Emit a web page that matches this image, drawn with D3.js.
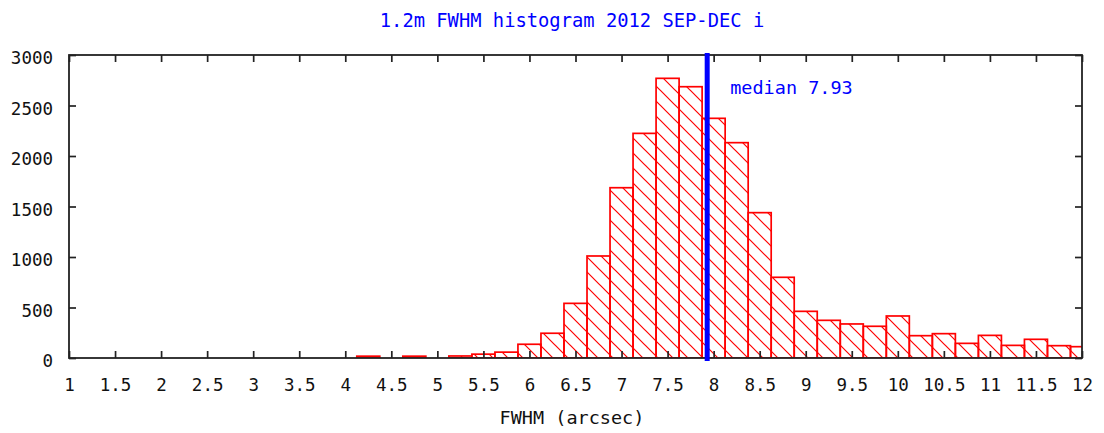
<!DOCTYPE html>
<html>
<head>
<meta charset="utf-8">
<script src="https://cdn.jsdelivr.net/npm/d3@7"></script>
<style>
  html, body { margin: 0; padding: 0; background: #fff; }
  svg { display: block; }
  text { font-family: "DejaVu Sans Mono", "Liberation Mono", monospace; }
</style>
</head>
<body>
<svg id="chart" width="1104" height="433"></svg>
<script>
// Histogram bins (centre of each 0.25 arcsec bin) and their counts
const binCenters = [4.25, 4.5, 4.75, 5.0, 5.25, 5.5, 5.75, 6.0, 6.25, 6.5, 6.75,
  7.0, 7.25, 7.5, 7.75, 8.0, 8.25, 8.5, 8.75, 9.0, 9.25, 9.5, 9.75,
  10.0, 10.25, 10.5, 10.75, 11.0, 11.25, 11.5, 11.75, 12.0];
const counts = [18, 0, 18, 0, 20, 38, 58, 136, 245, 541, 1010,
  1686, 2224, 2769, 2686, 2373, 2132, 1439, 799, 462, 373, 337, 314,
  416, 221, 241, 145, 224, 125, 185, 122, 112];
const binWidth = 0.25;

const medianValue = 7.93;
const titleText = "1.2m FWHM histogram 2012 SEP-DEC i";
const xLabelText = "FWHM (arcsec)";

const xTicks = [1, 1.5, 2, 2.5, 3, 3.5, 4, 4.5, 5, 5.5, 6, 6.5, 7, 7.5, 8, 8.5,
  9, 9.5, 10, 10.5, 11, 11.5, 12];
const yTicks = [0, 500, 1000, 1500, 2000, 2500, 3000];

const svg = d3.select("#chart");
const plot = { left: 69, right: 1082, top: 55, bottom: 358 };

const x = d3.scaleLinear().domain([1, 12]).range([plot.left, plot.right]);
const y = d3.scaleLinear().domain([0, 3000]).range([plot.bottom, plot.top]);

const defs = svg.append("defs");
defs.append("clipPath").attr("id", "plotClip")
  .append("rect")
  .attr("x", plot.left).attr("y", plot.top - 2)
  .attr("width", plot.right - plot.left).attr("height", plot.bottom - plot.top + 2);

// diagonal "\\\" hatching used to fill the boxes
const hatch = defs.append("pattern")
  .attr("id", "hatch")
  .attr("patternUnits", "userSpaceOnUse")
  .attr("width", 15).attr("height", 15);
hatch.append("path")
  .attr("d", "M-1,-1 L16,16 M-1,14 L1,16 M14,-1 L16,1")
  .attr("stroke", "#ff0000")
  .attr("stroke-width", 1.2)
  .attr("fill", "none");

const bins = binCenters.map((c, i) => ({ c, n: counts[i] }));

svg.append("g").attr("clip-path", "url(#plotClip)")
  .selectAll("rect")
  .data(bins.filter(d => d.n > 0))
  .join("rect")
  .attr("x", d => x(d.c - binWidth / 2))
  .attr("width", d => x(d.c + binWidth / 2) - x(d.c - binWidth / 2))
  .attr("y", d => y(d.n))
  .attr("height", d => y(0) - y(d.n))
  .attr("fill", "url(#hatch)")
  .attr("stroke", "#ff0000")
  .attr("stroke-width", 1.7);

// axes with inward ticks, mirrored on top and right
const tickLen = 7;
const axisColor = "#222";
const fmt = d3.format("~g");

const xAxisB = d3.axisBottom(x).tickValues(xTicks).tickSize(-tickLen).tickSizeOuter(0).tickFormat(fmt);
const xAxisT = d3.axisTop(x).tickValues(xTicks).tickSize(-tickLen).tickSizeOuter(0).tickFormat("");
const yAxisL = d3.axisLeft(y).tickValues(yTicks).tickSize(-tickLen).tickSizeOuter(0).tickFormat(fmt);
const yAxisR = d3.axisRight(y).tickValues(yTicks).tickSize(-tickLen).tickSizeOuter(0).tickFormat("");

function styleAxis(g) {
  g.select(".domain").remove();
  g.selectAll(".tick line").attr("stroke", axisColor).attr("stroke-width", 1.7);
  g.selectAll(".tick text").attr("fill", "#111").style("font-size", "17.5px")
    .style("font-family", "'DejaVu Sans Mono', monospace");
}

svg.append("g").attr("transform", `translate(0,${plot.bottom})`).call(xAxisB).call(styleAxis)
  .selectAll(".tick text").attr("y", 33).attr("dy", 0);
svg.append("g").attr("transform", `translate(0,${plot.top})`).call(xAxisT).call(styleAxis);
svg.append("g").attr("transform", `translate(${plot.left},0)`).call(yAxisL).call(styleAxis)
  .selectAll(".tick text").attr("x", -16).attr("dy", 8.5);
svg.append("g").attr("transform", `translate(${plot.right},0)`).call(yAxisR).call(styleAxis);

// plot frame
svg.append("rect")
  .attr("x", plot.left).attr("y", plot.top)
  .attr("width", plot.right - plot.left).attr("height", plot.bottom - plot.top)
  .attr("fill", "none").attr("stroke", axisColor).attr("stroke-width", 1.8);

// median marker
svg.append("line")
  .attr("x1", x(medianValue)).attr("x2", x(medianValue))
  .attr("y1", plot.top - 2).attr("y2", plot.bottom + 3)
  .attr("stroke", "#0000ff").attr("stroke-width", 5);

svg.append("text")
  .attr("x", x(medianValue) + 23).attr("y", 94)
  .attr("fill", "#0000ff").style("font-size", "18.5px")
  .text("median " + fmt(medianValue));

// title and axis label
svg.append("text")
  .attr("x", 572).attr("y", 27).attr("text-anchor", "middle")
  .attr("fill", "#0000ff").style("font-size", "18.8px")
  .text(titleText);

svg.append("text")
  .attr("x", 572).attr("y", 424).attr("text-anchor", "middle")
  .attr("fill", "#111").style("font-size", "18.5px")
  .text(xLabelText);
</script>
</body>
</html>
